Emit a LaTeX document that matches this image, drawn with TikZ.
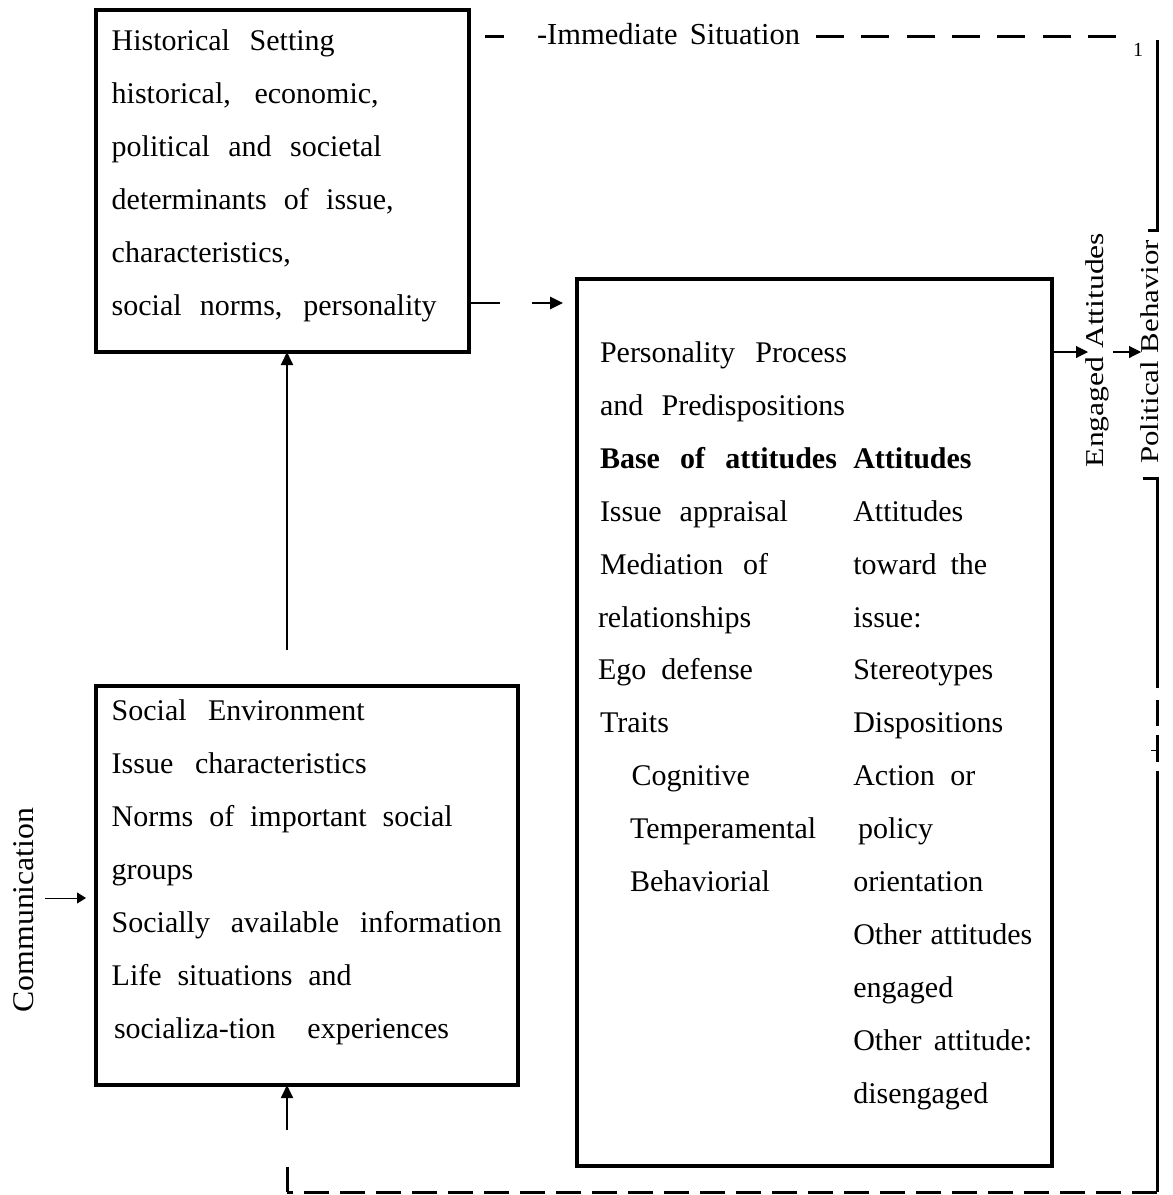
\documentclass[tikz,border=0pt]{standalone}
\usepackage{graphicx}
\usepackage{fontspec}
\setmainfont{Liberation Serif}
\usetikzlibrary{arrows.meta}
\newcommand\jl[2]{\makebox[#1pt][s]{#2}}
\begin{document}
\begin{tikzpicture}[x=1pt,y=-1pt,
  tx/.style={anchor=base west, inner sep=0pt, outer sep=0pt, font=\fontsize{30}{36}\selectfont},
  boxst/.style={draw, line width=3.2pt, anchor=north west, inner sep=0pt, outer sep=0pt},
  rot/.style={rotate=90, anchor=base, inner sep=0pt, outer sep=0pt},
  lw/.style={line width=3pt},
  arr/.style={line width=1.8pt, -{Triangle[length=13pt,width=12pt]}},
  arrthin/.style={line width=1.1pt, -{Triangle[length=12pt,width=12pt]}},
  arrsmall/.style={line width=1pt, -{Triangle[length=9pt,width=11pt]}}
]
\useasboundingbox (0,0) rectangle (1173,1195);

% boxes
\node[boxst, minimum width=373pt, minimum height=342pt] (hist) at (96,10) {};
\node[boxst, minimum width=422pt, minimum height=399pt] (social) at (96,686) {};
\node[boxst, minimum width=475pt, minimum height=887pt] (pers) at (577,279) {};

% historical setting text
\node[tx] (h1) at (111.7,50)  {\jl{223}{Historical Setting}};
\node[tx] (h2) at (111.7,103) {\jl{267}{historical, economic,}};
\node[tx] (h3) at (111.7,156) {\jl{270}{political and societal}};
\node[tx] (h4) at (111.7,209) {\jl{282}{determinants of issue,}};
\node[tx] (h5) at (111.7,262) {characteristics,};
\node[tx] (h6) at (111.7,315) {\jl{325}{social norms, personality}};

% social environment text
\node[tx] (s1) at (111.7,720)  {\jl{253}{Social Environment}};
\node[tx] (s2) at (111.7,773)  {\jl{255}{Issue characteristics}};
\node[tx] (s3) at (111.7,826)  {\jl{341}{Norms of important social}};
\node[tx] (s4) at (111.7,879)  {groups};
\node[tx] (s5) at (111.7,932)  {\jl{390}{Socially available information}};
\node[tx] (s6) at (111.7,985)  {\jl{240}{Life situations and}};
\node[tx] (s7) at (114,1038)   {\jl{335}{socializa-tion experiences}};

% personality box, left column
\node[tx] (l0)  at (600,362.5)  {\jl{247}{Personality Process}};
\node[tx] (l1)  at (600,415.4)  {\jl{245}{and Predispositions}};
\node[tx] (l2)  at (600,468.3)  {\bfseries\jl{237}{Base of attitudes}};
\node[tx] (l3)  at (600,521.2)  {\jl{188}{Issue appraisal}};
\node[tx] (l4)  at (600,574.1)  {\jl{168}{Mediation of}};
\node[tx] (l5)  at (598,627.0)  {relationships};
\node[tx] (l6)  at (598,679.9)  {\jl{155}{Ego defense}};
\node[tx] (l7)  at (600,732.8)  {Traits};
\node[tx] (l8)  at (631.7,785.7) {Cognitive};
\node[tx] (l9)  at (630,838.6)  {Temperamental};
\node[tx] (l10) at (630,891.5)  {Behaviorial};

% personality box, right column
\node[tx] (r2)  at (853.3,468.3)  {\bfseries Attitudes};
\node[tx] (r3)  at (853.3,521.2)  {Attitudes};
\node[tx] (r4)  at (853.3,574.1)  {\jl{134}{toward the}};
\node[tx] (r5)  at (853.3,627.0)  {issue:};
\node[tx] (r6)  at (853.3,679.9)  {Stereotypes};
\node[tx] (r7)  at (853.3,732.8)  {Dispositions};
\node[tx] (r8)  at (853.3,785.7)  {\jl{122}{Action or}};
\node[tx] (r9)  at (858,838.6)    {policy};
\node[tx] (r10) at (853.3,891.5)  {orientation};
\node[tx] (r11) at (853.3,944.4)  {\jl{179}{Other attitudes}};
\node[tx] (r12) at (853.3,997.3)  {engaged};
\node[tx] (r13) at (853.3,1050.2) {\jl{179}{Other attitude:}};
\node[tx] (r14) at (853.3,1103.1) {disengaged};

% rotated labels
\node[rot, font=\fontsize{25.7}{30}\selectfont] (ea) at (1103,350) {\scalebox{1.23}[1]{Engaged Attitudes}};
\node[rot, font=\fontsize{25.7}{30}\selectfont] (pb) at (1158,352) {\scalebox{1.2}[1]{Political Behavior}};
\node[rot, font=\fontsize{30}{35}\selectfont] (comm) at (34,910) {\scalebox{1.06}[1]{Communication}};

% top label
\node[tx, font=\fontsize{30.5}{35}\selectfont] (imm) at (537,44) {\jl{263}{-Immediate Situation}};
\node[inner sep=0pt, font=\fontsize{20}{24}\selectfont] (one) at (1138,50) {1};

% coordinates
\coordinate (ax) at (287,0);
\coordinate (y303) at (0,303);
\coordinate (y352) at (0,352);
\coordinate (y898) at (0,898);
\coordinate (d1a) at (485,36);
\coordinate (d1b) at (504,36);
\coordinate (d2a) at (816,36);
\coordinate (d2b) at (1116,36);
\coordinate (tr) at (1157,40);
\coordinate (pbtop) at (1157,230);
\coordinate (br) at (1157,1192);
\coordinate (bl) at (287,1192);
\coordinate (blt) at (287,1167);
\coordinate (b1) at (287,1130);
\coordinate (c1) at (45,898);
\coordinate (e2a) at (1113,352);
\coordinate (e2b) at (1141,352);
\coordinate (e1b) at (1088,352);

% social -> historical
\draw[arr, shorten <=36pt] (social.north -| ax) -- (hist.south -| ax);
% feedback arrow into social
\draw[arr] (b1) -- (social.south -| ax);
% historical -> personality (dashed)
\draw[line width=2.6pt, dash pattern=on 31pt off 32pt on 200pt, -{Triangle[length=13pt,width=12pt]}, shorten >=14pt]
  (hist.east |- y303) -- (pers.west |- y303);
% personality -> engaged attitudes -> political behavior
\draw[arrthin] (pers.east |- y352) -- (e1b);
\draw[arrthin] (e2a) -- (e2b);
% communication
\draw[arrsmall, shorten >=10pt] (c1) -- (social.west |- y898);

% immediate situation line
\draw[lw] (d1a) -- (d1b);
\draw[lw, dash pattern=on 28pt off 17.3pt] (d2a) -- (d2b);

% right vertical line and bottom loop
\draw[lw] (tr) -- (pbtop) -- ++(-9,0);
\draw[lw] (1143,478) -- (1157,478) -- (1157,688);
\draw[lw] (1157,700) -- (1157,726);
\draw[lw] (1157,735) -- (1157,762);
\draw[line width=1pt] (1151,750) -- (1157,750);
\draw[lw] (1157,771) -- (br);
\draw[lw, dash pattern=on 25pt off 11pt] (br) -- (bl);
\draw[lw] (bl) -- (blt);
\end{tikzpicture}
\end{document}
